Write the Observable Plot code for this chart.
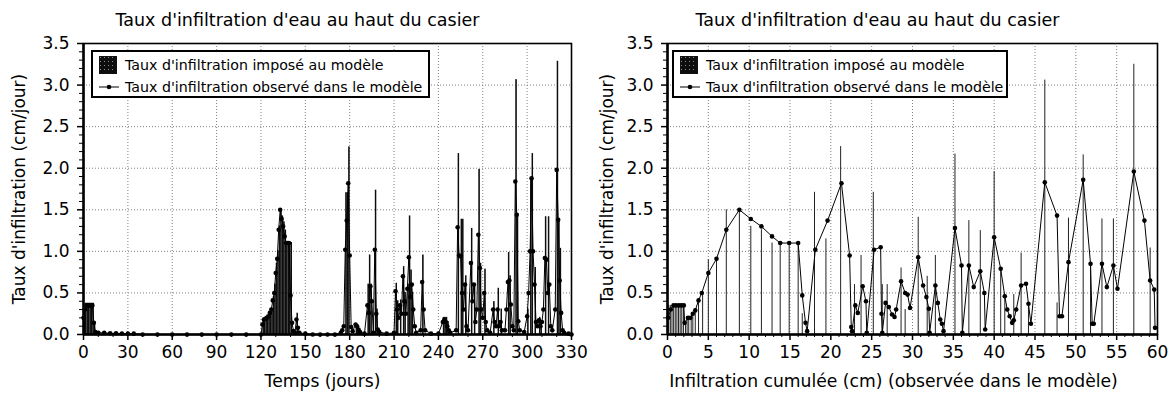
<!DOCTYPE html>
<html><head><meta charset="utf-8">
<script src="https://cdn.jsdelivr.net/npm/d3@7"></script>
<script src="https://cdn.jsdelivr.net/npm/@observablehq/plot@0.6"></script>
<style>
body{margin:0;background:#fff;}
#wrap{position:relative;width:1176px;height:396px;font-family:"DejaVu Sans",sans-serif;overflow:hidden;}
.panel{position:absolute;top:0;width:588px;height:396px;}
.legend{position:absolute;top:50px;height:44px;border:2px solid #000;background:#fff;font-size:14.2px;color:#000;}
.legend .t{position:absolute;left:32px;white-space:nowrap;line-height:18px;}
.legend .ic{position:absolute;left:6px;}
</style>
</head><body>
<div id="wrap">
  <div class="panel" id="p1" style="left:0"></div>
  <div class="panel" id="p2" style="left:588px"></div>
</div>
<script>
// ---------- data ----------
const titleText = "Taux d'infiltration d'eau au haut du casier";
const yLabel = "Taux d'infiltration (cm/jour)";
const xLabelLeft = "Temps (jours)";
const xLabelRight = "Infiltration cumulée (cm) (observée dans le modèle)";
const legendImposed = "Taux d'infiltration imposé au modèle";
const legendObserved = "Taux d'infiltration observé dans le modèle";

const xTicksLeft = [0,30,60,90,120,150,180,210,240,270,300,330];
const xMinorLeft = [10,20,40,50,70,80,100,110,130,140,160,170,190,200,220,230,250,260,280,290,310,320];
const xTicksRight = [0,5,10,15,20,25,30,35,40,45,50,55,60];
const xMinorRight = [1,2,3,4,6,7,8,9,11,12,13,14,16,17,18,19,21,22,23,24,26,27,28,29,31,32,33,34,36,37,38,39,41,42,43,44,46,47,48,49,51,52,53,54,56,57,58,59];
const yTicks = [0,0.5,1,1.5,2,2.5,3,3.5];
const yMinor = [0.1,0.2,0.3,0.4,0.6,0.7,0.8,0.9,1.1,1.2,1.3,1.4,1.6,1.7,1.8,1.9,2.1,2.2,2.3,2.4,2.6,2.7,2.8,2.9,3.1,3.2,3.3,3.4];

// Left chart: imposed rate per day
const impDay = [0,1,2,3,4,5,6,7,
  121,122,123,124,125,126,127,128,129,130,131,132,133,134,135,136,137,138,139,140,
  144,177,178,179,184,185,192,193,194,197,198,
  211,212,214,216,217,219,220,221,222,229,
  243,244,245,246,253,255,256,258,262,264,267,268,271,277,280,282,287,288,
  292,293,300,302,303,305,308,309,312,314,320,321,322];
const impVal = [0.3,0.37,0.37,0.37,0.37,0.37,0.37,0.15,
  0.15,0.2,0.2,0.2,0.22,0.26,0.3,0.45,0.6,0.85,1.0,1.3,1.5,1.42,1.35,1.25,1.1,1.1,1.1,1.1,
  0.25,1.7,1.7,2.25,0.12,0.1,0.6,0.95,0.6,1.73,0.3,
  0.61,0.4,0.41,0.81,0.5,0.6,1.42,0.77,0.5,0.95,
  0.2,0.2,0.2,0.15,2.17,1.38,1.38,0.7,1.27,0.6,1.98,0.85,0.78,0.39,0.55,0.3,0.98,0.7,
  3.06,1.45,0.3,1.85,2.17,0.8,0.2,0.15,1.41,1.41,3.28,1.38,1.03];

// Left chart: observed rate per day
const obsDay = [0,1,2,3,4,5,6,7,8,10,14,18,22,26,30,34,40,50,60,70,80,90,100,110,120,
  121,122,123,124,125,126,127,128,129,130,131,132,133,134,135,136,137,138,139,140,141,142,143,144,145,146,150,155,160,165,170,
  174,175,176,177,178,179,180,181,182,184,185,186,187,190,
  192,193,194,195,196,197,198,199,200,205,
  210,211,212,213,214,215,216,217,218,219,220,221,222,223,224,225,228,229,230,231,235,240,
  243,244,245,246,247,248,252,253,254,255,256,257,258,259,260,262,263,264,265,266,267,268,269,270,271,272,273,275,
  277,278,279,280,281,282,283,285,286,287,288,289,290,291,292,293,294,295,298,
  300,301,302,303,304,305,306,307,308,309,310,311,312,313,314,315,316,317,319,320,321,322,323,324,325,328,330];
const obsVal = [0.2,0.3,0.35,0.35,0.35,0.35,0.35,0.14,0.03,0.02,0.02,0.015,0.015,0.012,0.01,0.01,0,0,0,0,0,0,0,0,0,
  0.12,0.18,0.19,0.2,0.22,0.26,0.3,0.41,0.5,0.74,0.91,1.26,1.5,1.39,1.3,1.18,1.1,1.1,1.1,0.47,0.14,0.04,0.02,0.18,0.08,0.02,0.01,0,0,0,0,
  0.02,0.05,0.1,1.02,1.37,1.82,0.95,0.09,0.04,0.12,0.1,0.06,0.03,0.01,
  0.35,0.26,0.58,0.4,0.02,1.02,0.25,0.06,0.03,0.01,
  0.02,0.52,0.3,0.2,0.35,0.25,0.7,0.4,0.25,0.55,0.93,0.45,0.6,0.3,0.1,0.02,0.05,0.63,0.3,0.05,0.01,0.01,
  0.15,0.18,0.15,0.1,0.05,0.02,0.05,1.29,0.95,0.94,0.5,0.3,0.6,0.1,0.05,0.86,0.4,0.6,0.15,0.3,1.2,0.8,0.3,0.2,0.5,0.15,0.05,0.02,
  0.3,0.15,0.1,0.3,0.1,0.15,0.05,0.05,0.3,0.63,0.65,0.36,0.1,0.05,1.84,1.44,0.16,0.05,0.03,
  0.22,0.5,1.0,1.88,1.0,0.6,0.15,0.1,0.17,0.1,0.15,0.3,0.92,0.9,0.5,0.6,0.1,0.05,0.3,1.98,1.38,0.65,0.26,0.05,0.02,0.01,0];

// Right chart: observed rate vs cumulative observed infiltration
const cumObs = [0.08,0.4,0.74,1.05,1.4,1.7,2.0,2.1,2.5,2.8,3.1,3.4,3.8,4.2,5.0,6.0,7.2,8.8,10.2,11.5,12.8,13.8,14.9,16.0,16.5,16.9,17.1,
  18.1,19.6,21.3,22.3,22.5,22.6,23.0,23.3,23.9,24.3,24.4,25.3,26.1,26.2,26.3,26.7,27.1,27.5,27.8,28.0,28.6,29.1,29.4,29.7,
  30.7,31.3,31.7,32.0,32.1,32.8,33.1,33.4,33.6,33.8,35.2,36.0,36.1,36.9,37.5,38.3,38.8,38.9,40.0,40.8,41.3,41.6,41.9,42.2,42.4,42.7,
  43.3,43.9,44.2,44.5,46.2,47.7,48.0,48.3,49.1,50.9,51.8,52.0,52.2,53.2,53.8,54.6,55.1,57.1,58.4,59.1,59.6,59.7];
const cumObsVal = [0.2,0.3,0.35,0.35,0.35,0.35,0.35,0.14,0.2,0.2,0.25,0.29,0.41,0.5,0.74,0.91,1.26,1.5,1.39,1.3,1.18,1.1,1.1,1.1,0.47,0.14,0.04,
  1.02,1.37,1.82,0.95,0.09,0.04,0.35,0.26,0.58,0.4,0.02,1.02,1.05,0.25,0.02,0.38,0.33,0.24,0.21,0.3,0.64,0.5,0.48,0.32,
  0.93,0.59,0.45,0.31,0.02,0.59,0.38,0.18,0.13,0.04,1.28,0.83,0.02,0.83,0.57,0.76,0.5,0.06,1.17,0.79,0.46,0.3,0.22,0.14,0.17,0.3,
  0.59,0.61,0.37,0.13,1.83,1.43,0.22,0.22,0.87,1.86,0.85,0.13,0.13,0.85,0.57,0.83,0.55,1.96,1.37,0.65,0.54,0.08];

// Right chart: imposed rate at cumulative observed infiltration
const cumImp = [0.15,0.35,0.55,0.75,0.95,1.15,1.35,1.55,1.75,1.95,2.2,2.4,2.6,2.9,3.1,3.4,3.8,4.3,5.0,6.0,7.2,8.8,10.2,11.5,12.8,13.8,14.9,16.0,16.5,
  18.0,19.4,21.2,22.9,23.7,25.2,26.3,26.9,28.6,29.1,30.7,31.8,32.8,35.2,36.9,38.3,40.0,40.8,41.3,42.4,43.3,44.2,
  46.2,47.7,49.1,50.9,51.8,53.2,54.6,57.1,59.1];
const cumImpVal = [0.35,0.35,0.35,0.35,0.35,0.35,0.35,0.35,0.35,0.35,0.15,0.2,0.2,0.2,0.25,0.3,0.4,0.5,0.9,0.9,1.5,1.5,1.3,1.26,1.1,1.1,1.1,1.1,0.25,
  1.71,1.15,2.26,0.6,0.95,1.71,0.6,0.6,0.8,0.3,1.41,0.7,0.95,2.17,1.37,1.25,1.96,0.77,0.48,0.48,0.98,0.38,
  3.06,0.38,1.4,2.16,0.85,1.39,1.39,3.25,1.04];

// ---------- build ----------
const leftImp = impDay.map((d,i)=>({x:d, v:impVal[i]}));
const leftObs = obsDay.map((d,i)=>({x:d, v:obsVal[i]}));
const rightObs = cumObs.map((d,i)=>({x:d, v:cumObsVal[i]}));
const rightImp = cumImp.map((d,i)=>({x:d, v:cumImpVal[i]}));

const gridStyle = {stroke:"#808080", strokeOpacity:1, strokeDasharray:"1,2", strokeWidth:1};

function addPattern(svg, pid) {
  const defs = d3.select(svg).insert("defs", ":first-child");
  const p = defs.append("pattern").attr("id", pid).attr("width", 4).attr("height", 4).attr("patternUnits", "userSpaceOnUse");
  p.append("rect").attr("width", 4).attr("height", 4).attr("fill", "#0d0d0d");
  p.append("rect").attr("x", 1).attr("y", 1).attr("width", 1).attr("height", 1).attr("fill", "#8a8a8a");
}

function panel({domain, xTicks, xMinor, marginLeft, marginRight, imposedMarks, obs, xLabel, xLabelDx, titleDx, pid}) {
  const svg = Plot.plot({
    width: 588, height: 396,
    marginLeft, marginRight, marginTop: 43, marginBottom: 62,
    x: {domain},
    y: {domain: [0, 3.5]},
    style: {fontFamily: "DejaVu Sans", fontSize: "17px", color: "#000", background: "transparent", overflow: "visible"},
    marks: [
      Plot.gridX(xTicks, gridStyle),
      Plot.gridY(yTicks, gridStyle),
      ...imposedMarks,
      Plot.line(obs, {x:"x", y:"v", stroke:"#000", strokeWidth:1}),
      Plot.dot(obs, {x:"x", y:"v", r:2.3, fill:"#000", stroke:"none"}),
      Plot.frame({stroke:"#000", strokeWidth:1.6}),
      Plot.ruleX([domain[0]], {stroke:"#000", strokeWidth:2.5}),
      Plot.ruleY([0], {stroke:"#000", strokeWidth:2.5}),
      Plot.axisX(xTicks, {tickSize:6, tickPadding:5, label:null, fontSize:17, strokeWidth:1.5}),
      Plot.axisX(xMinor, {tickSize:3, tickFormat:()=>"", label:null}),
      Plot.axisY(yTicks, {tickSize:6, tickPadding:8, tickFormat:d3.format(".1f"), label:null, fontSize:17, strokeWidth:1.5}),
      Plot.axisY(yMinor, {tickSize:4, tickFormat:()=>"", label:null}),
      Plot.text([titleText], {text:d=>d, frameAnchor:"top", dy:-30, dx:titleDx, fontSize:17.5}),
      Plot.text([xLabel], {text:d=>d, frameAnchor:"bottom", dy:52, dx:xLabelDx, fontSize:17.2}),
      Plot.text([yLabel], {text:d=>d, frameAnchor:"left", textAnchor:"middle", rotate:-90, dx:-(marginLeft-19), fontSize:17})
    ]
  });
  addPattern(svg, pid);
  return svg;
}

const svgL = panel({
  domain:[0,330], xTicks:xTicksLeft, xMinor:xMinorLeft, marginLeft:83, marginRight:17,
  imposedMarks:[Plot.rectY(leftImp, {x:"x", y:"v", interval:1, fill:"url(#stipL)", stroke:"#0d0d0d", strokeWidth:1})],
  obs:leftObs, xLabel:xLabelLeft, xLabelDx:-5, titleDx:-30, pid:"stipL"
});
const svgR = panel({
  domain:[0,60], xTicks:xTicksRight, xMinor:xMinorRight, marginLeft:79, marginRight:19,
  imposedMarks:[Plot.ruleX(rightImp, {x:"x", y1:0, y2:"v", stroke:"#222", strokeWidth:1})],
  obs:rightObs, xLabel:xLabelRight, xLabelDx:-19, titleDx:-35, pid:"stipR"
});
document.getElementById("p1").appendChild(svgL);
document.getElementById("p2").appendChild(svgR);

function legend(left, width, pid) {
  const box = document.createElement("div");
  box.className = "legend";
  box.style.left = left + "px";
  box.style.width = width + "px";
  box.innerHTML =
    `<svg class="ic" style="top:4px" width="18" height="18"><defs><pattern id="${pid}" width="4" height="4" patternUnits="userSpaceOnUse"><rect width="4" height="4" fill="#0d0d0d"/><rect x="1" y="1" width="1" height="1" fill="#8a8a8a"/></pattern></defs><rect x="0.5" y="0.5" width="17" height="17" fill="url(#${pid})" stroke="#111"/></svg>` +
    `<div class="t" style="top:4px">${legendImposed}</div>` +
    `<svg class="ic" style="top:30px" width="20" height="10"><line x1="0" y1="5" x2="20" y2="5" stroke="#000" stroke-width="1"/><circle cx="10" cy="5" r="2.3" fill="#000"/></svg>` +
    `<div class="t" style="top:26px">${legendObserved}</div>`;
  document.getElementById("wrap").appendChild(box);
}
legend(91, 335, "legPatL");
legend(672, 332, "legPatR");
</script>
</body></html>
